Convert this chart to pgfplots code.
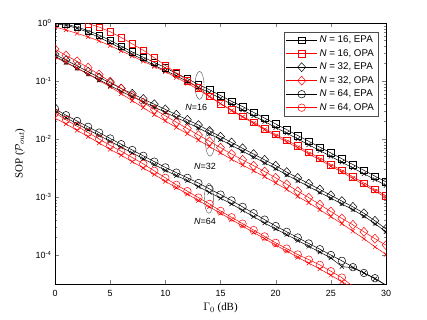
\documentclass[border=0pt]{standalone}
\usepackage{pgfplots}
\usepackage{pgfplotstable}
\pgfplotsset{compat=1.18}
\usepackage{fontspec}
\setmainfont{Liberation Serif}
\setsansfont{Liberation Sans}

\pgfplotstableread{
G  s16     xk16    s16o    xr16    d32      xk32     d32o     xr32     c64       xk64      c64o      xr64
0  0.990   0.977   nan     0.851   0.288    0.269    0.355    0.257    0.0331    0.0302    0.0282    0.0229
1  0.955   0.912   nan     0.759   0.229    0.209    0.275    0.209    0.0257    0.0234    0.0214    0.0182
2  0.851   0.813   nan     0.661   0.182    0.166    0.219    0.166    0.0204    0.0182    0.0166    0.0141
3  0.741   0.692   0.977   0.575   0.145    0.132    0.170    0.132    0.0162    0.0145    0.0129    0.0110
4  0.617   0.562   0.851   0.490   0.115    0.105    0.129    0.102    0.0129    0.0115    0.0100    0.00851
5  0.501   0.457   0.708   0.407   0.0933   0.0832   0.0977   0.0794   0.0102    0.00912   0.00776   0.00661
6  0.398   0.363   0.562   0.331   0.0741   0.0661   0.0741   0.0603   0.00813   0.00724   0.00617   0.00525
7  0.316   0.288   0.437   0.269   0.0603   0.0537   0.0562   0.0457   0.00646   0.00575   0.00479   0.00407
8  0.257   0.234   0.339   0.219   0.0490   0.0437   0.0427   0.0347   0.00513   0.00457   0.00372   0.00316
9  0.209   0.186   0.251   0.178   0.0398   0.0355   0.0324   0.0263   0.00407   0.00363   0.00282   0.00245
10 0.170   0.151   0.186   0.145   0.0324   0.0288   0.0251   0.0204   0.00324   0.00288   0.00214   0.00186
11 0.135   0.123   0.138   0.115   0.0263   0.0234   0.0195   0.0158   0.00263   0.00234   0.00162   0.00145
12 0.110   0.0977  0.102   0.0912  0.0214   0.0191   0.0151   0.0123   0.00214   0.00191   0.00126   0.00112
13 0.0871  0.0776  0.0759  0.0708  0.0174   0.0155   0.0117   0.00955  0.00174   0.00151   0.000977  0.000871
14 0.0708  0.0631  0.0550  0.0537  0.0138   0.0123   0.00912  0.00741  0.00138   0.00120   0.000759  0.000676
15 0.0562  0.0501  0.0407  0.0407  0.0110   0.00977  0.00708  0.00575  0.00110   0.000955  0.000575  0.000525
16 0.0447  0.0398  0.0316  0.0309  0.00871  0.00776  0.00550  0.00447  0.000871  0.000759  0.000447  0.000407
17 0.0363  0.0316  0.0245  0.0240  0.00692  0.00617  0.00437  0.00355  0.000676  0.000589  0.000347  0.000316
18 0.0288  0.0251  0.0195  0.0186  0.00550  0.00490  0.00347  0.00282  0.000525  0.000457  0.000269  0.000245
19 0.0229  0.0200  0.0151  0.0145  0.00437  0.00389  0.00275  0.00224  0.000407  0.000355  0.000209  0.000191
20 0.0182  0.0158  0.0120  0.0112  0.00347  0.00309  0.00214  0.00174  0.000316  0.000282  0.000162  0.000148
21 0.0145  0.0126  0.00955 0.00891 0.00269  0.00240  0.00166  0.00135  0.000251  0.000224  0.000129  0.000117
22 0.0115  0.0100  0.00759 0.00708 0.00214  0.00191  0.00126  0.00102  0.000200  0.000178  0.000102  0.0000912
23 0.00912 0.00794 0.00589 0.00550 0.00170  0.00151  0.000977 0.000794 0.000158  0.000141  0.0000832 0.0000724
24 0.00724 0.00631 0.00468 0.00437 0.00135  0.00120  0.000741 0.000603 0.000126  0.000112  0.0000676 0.0000575
25 0.00575 0.00501 0.00363 0.00339 0.00107  0.000955 0.000562 0.000457 0.000100  0.0000891 0.0000525 0.0000447
26 0.00457 0.00398 0.00288 0.00269 0.000851 0.000759 0.000427 0.000347 0.0000794 0.0000631 0.0000407 0.0000347
27 0.00363 0.00316 0.00224 0.00209 0.000676 0.000603 0.000331 0.000257 0.0000617 0.0000603 0.0000288 0.0000269
28 0.00288 0.00251 0.00174 0.00162 0.000525 0.000468 0.000251 0.000191 0.0000490 0.0000490 nan       nan
29 0.00229 0.00200 0.00135 0.00126 0.000389 0.000347 0.000191 0.000138 0.0000398 0.0000389 nan       nan
30 0.00182 0.00158 0.00105 0.000977 0.000282 0.000251 0.000148 0.000102 0.0000302 0.0000302 nan      nan
}\datatab

\begin{document}
\begin{tikzpicture}
\begin{axis}[
  scale only axis,
  width=331bp, height=261bp,
  ymode=log,
  xmin=0, xmax=30,
  ymin=3.1623e-5, ymax=1,
  xtick={0,5,10,15,20,25,30},
  ytick={1e-4,1e-3,1e-2,1e-1,1},
  yticklabels={10\textsuperscript{-4},10\textsuperscript{-3},10\textsuperscript{-2},10\textsuperscript{-1},10\textsuperscript{0}},
  /pgf/number format/assume math mode=true,
  ticklabel style={font=\sffamily\fontsize{9}{10}\selectfont},
  xticklabel style={yshift=-3bp},
  tick align=inside,
  major tick length=4bp,
  minor tick length=2bp,
  xlabel={$\Gamma_0$ (dB)},
  ylabel={SOP ($\mathcal{P}_{out}$)},
  label style={font=\fontsize{11}{13}\selectfont},
  xlabel style={at={(axis description cs:0.5,-0.092)}, anchor=center},
  ylabel style={at={(axis description cs:-0.106,0.5)}, anchor=center},
  clip marker paths=true,
  legend style={at={(axis description cs:0.976,0.966)}, anchor=north east,
    font=\sffamily\fontsize{9.8}{11}\selectfont, draw=black!70, inner sep=2pt,
    row sep=1.2pt},
  legend cell align=left,
  legend image code/.code={\draw[mark repeat=2,mark phase=2] plot coordinates {(0cm,0cm) (0.55cm,0cm) (1.1cm,0cm)};},
  every axis plot/.append style={line width=0.5pt},
]
% cross curves (no legend)
\addplot[black, mark=x, mark size=3pt, forget plot] table[x=G,y=xk16]{\datatab};
\addplot[red, mark=x, mark size=3pt, forget plot] table[x=G,y=xr16]{\datatab};
\addplot[black, mark=x, mark size=3pt, forget plot] table[x=G,y=xk32]{\datatab};
\addplot[red, mark=x, mark size=3pt, forget plot] table[x=G,y=xr32]{\datatab};
\addplot[black, mark=x, mark size=3pt, forget plot] table[x=G,y=xk64]{\datatab};
\addplot[red, mark=x, mark size=3pt, forget plot] table[x=G,y=xr64]{\datatab};
% main curves
\addplot[black, mark=square, mark size=3.3pt, mark options={fill=none}] table[x=G,y=s16]{\datatab};
\addlegendentry{\textit{N} = 16, EPA}
\addplot[red, mark=square, mark size=3.3pt, mark options={fill=none}] table[x=G,y=s16o]{\datatab};
\addlegendentry{\textit{N} = 16, OPA}
\addplot[black, mark=diamond, mark size=4.5pt, mark options={fill=none,xscale=1.2}] table[x=G,y=d32]{\datatab};
\addlegendentry{\textit{N} = 32, EPA}
\addplot[red, mark=diamond, mark size=4.5pt, mark options={fill=none,xscale=1.2}] table[x=G,y=d32o]{\datatab};
\addlegendentry{\textit{N} = 32, OPA}
\addplot[black, mark=o, mark size=3.8pt] table[x=G,y=c64]{\datatab};
\addlegendentry{\textit{N} = 64, EPA}
\addplot[red, mark=o, mark size=3.8pt] table[x=G,y=c64o]{\datatab};
\addlegendentry{\textit{N} = 64, OPA}
% annotations
\draw[black!70, line width=0.4pt] (axis cs:13.1,0.0841) ellipse [x radius=4.5bp, y radius=14bp];
\draw[black!70, line width=0.4pt] (axis cs:14.05,0.00881) ellipse [x radius=4.5bp, y radius=14bp];
\draw[black!70, line width=0.4pt] (axis cs:13.95,0.00095) ellipse [x radius=4.5bp, y radius=15bp];
\node[font=\sffamily\fontsize{9}{10}\selectfont] at (axis cs:12.8,0.0347) {\textit{N}=16};
\node[font=\sffamily\fontsize{9}{10}\selectfont] at (axis cs:13.6,0.00339) {\textit{N}=32};
\node[font=\sffamily\fontsize{9}{10}\selectfont] at (axis cs:13.6,0.00038) {\textit{N}=64};
\end{axis}
\pgfresetboundingbox
\path[use as bounding box] ([xshift=-55bp,yshift=-36bp]current axis.south west) rectangle ([xshift=41bp,yshift=23bp]current axis.north east);
\end{tikzpicture}
\end{document}
